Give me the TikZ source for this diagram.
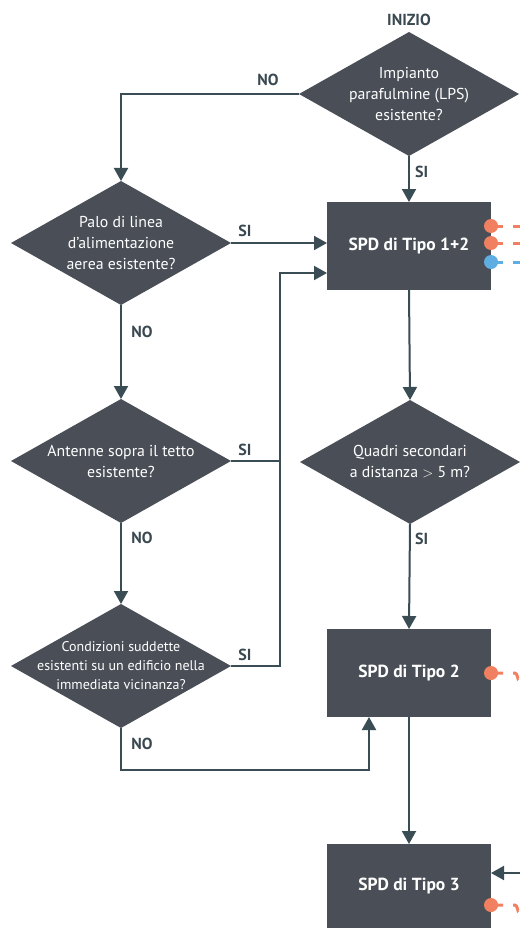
\documentclass[tikz,border=0pt]{standalone}
\usepackage{fontspec}
\setmainfont{PT Sans}
\usetikzlibrary{shapes.geometric,arrows.meta,calc}
\definecolor{shapefill}{HTML}{4A4F57}
\definecolor{linecol}{HTML}{3A4C54}
\definecolor{labcol}{HTML}{3A4951}
\definecolor{orng}{HTML}{F0805F}
\definecolor{blu}{HTML}{5EAEE2}
\tikzset{
  dia/.style={diamond,fill=shapefill,minimum width=220pt,minimum height=124pt,inner sep=0pt,outer sep=0pt},
  diatext/.style={text=white,align=center,font=\fontsize{15.8}{21}\selectfont},
  diatextsm/.style={text=white,align=center,font=\fontsize{14}{19}\selectfont},
  spdbox/.style={rectangle,fill=shapefill,minimum width=164pt,minimum height=88pt,inner sep=0pt,outer sep=0pt,text=white,font=\fontsize{17.5}{20}\selectfont\bfseries},
  conn/.style={draw=linecol,line width=2pt},
  arr/.style={conn,-{Triangle[length=13pt,width=14pt]}},
  lab/.style={text=labcol,font=\fontsize{16}{18}\selectfont\bfseries,inner sep=0pt},
  odash/.style={draw=orng,line width=3pt,dash pattern=on 12pt off 10pt},
  bdash/.style={draw=blu,line width=3pt,dash pattern=on 12pt off 10pt},
}
\begin{document}
\begin{tikzpicture}[x=1pt,y=-1pt]
\useasboundingbox (0,0) rectangle (520,928);
% shapes
\node[lab] (start) at (409,20) {INIZIO};
\node[dia] (d0) at (409,94) {};
\node[diatext] (d0t) at (409,94) {Impianto\\parafulmine (LPS)\\esistente?};
\node[spdbox] (b1) at (409,246) {SPD di Tipo 1+2};
\node[dia] (d1) at (121,243) {};
\node[diatext] (d1t) at (121,243) {Palo di linea\\d’alimentazione\\aerea esistente?};
\node[dia] (d2) at (121,461) {};
\node[diatext] (d2t) at (121,461) {Antenne sopra il tetto\\esistente?};
\node[dia] (d3) at (121,666) {};
\node[diatextsm] (d3t) at (121,666) {Condizioni suddette\\esistenti su un edificio nella\\immediata vicinanza?};
\node[dia] (d4) at (410,462) {};
\node[diatext] (d4t) at (410,462) {Quadri secondari\\a distanza $>$ 5 m?};
\node[spdbox] (b2) at (409,673) {SPD di Tipo 2};
\node[spdbox,minimum height=84pt] (b3) at (409,886) {SPD di Tipo 3};
% coordinates
\coordinate (jt) at (280,273);
\coordinate (nb) at (369,770);
\coordinate (r3) at (520,873);
% connectors
\draw[arr] (d0.south) -- (b1.north);
\draw[arr] (d0.west) -| (d1.north);
\draw[arr] (d1.east) -- (d1.east -| b1.west);
\draw[arr] (d1.south) -- (d2.north);
\draw[arr] (d2.south) -- (d3.north);
\draw[conn] (d2.east) -- (d2.east -| jt);
\draw[arr] (d3.east) -- (d3.east -| jt) -- (jt) -- (jt -| b1.west);
\draw[arr] (d3.south) |- (nb) -- (nb |- b2.south);
\draw[arr] (b1.south) -- (d4.north);
\draw[arr] (d4.south) -- (b2.north);
\draw[arr] (b2.south) -- (b3.north);
\draw[arr] (r3) -- (r3 -| b3.east);
% labels
\node[lab] (l0) at (268,80) {NO};
\node[lab,anchor=west] (l1) at (415,172) {SI};
\node[lab] (l2) at (245,231) {SI};
\node[lab] (l3) at (142,332) {NO};
\node[lab] (l4) at (245,450) {SI};
\node[lab] (l5) at (142,538) {NO};
\node[lab] (l6) at (245,655) {SI};
\node[lab] (l7) at (142,744) {NO};
\node[lab,anchor=west] (l8) at (415,539) {SI};
% outputs
\coordinate (o1) at ($(b1.east)+(0,-20)$);
\coordinate (o2) at ($(b1.east)+(0,-3)$);
\coordinate (o3) at ($(b1.east)+(0,16)$);
\draw[odash] (o1) -- (o1 -| r3);
\draw[odash] (o2) -- (o2 -| r3);
\draw[bdash] (o3) -- (o3 -| r3);
\fill[orng] (o1) circle (7);
\fill[orng] (o2) circle (7);
\fill[blu] (o3) circle (7);
\coordinate (o4) at (b2.east);
\draw[odash] (o4) -- ++(24,0) to[out=0,in=-90] ++(3,5);
\fill[orng] (o4) circle (7);
\coordinate (o5) at ($(b3.east)+(0,19)$);
\draw[odash] (o5) -- ++(24,0) to[out=0,in=-90] ++(3,5);
\fill[orng] (o5) circle (7);
\end{tikzpicture}
\end{document}
